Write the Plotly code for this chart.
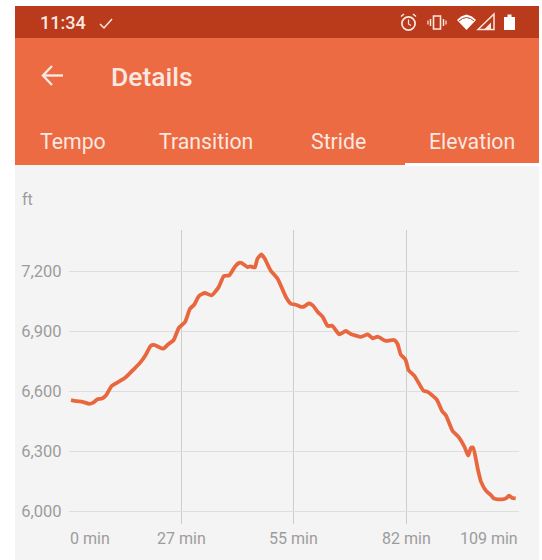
import plotly.graph_objects as go

minutes = [0.6, 2.0, 3.4, 5.0, 6.0, 7.0, 8.1, 9.1, 10.4, 11.7, 13.7, 15.7, 17.3, 18.7, 19.9, 20.7, 22.9, 24.2, 25.4, 26.7,
           28.2, 29.4, 30.4, 31.6, 33.0, 34.6, 36.3, 37.6, 38.9, 40.3, 41.3, 41.9, 43.3, 44.1, 45.1, 45.7, 46.7, 47.5, 48.9,
           50.6, 52.6, 53.8, 55.0, 56.2, 57.1, 58.1, 59.1, 60.3, 61.5, 62.7, 63.8, 65.5, 67.1, 68.3, 70.8, 72.4, 73.6, 74.8,
           76.8, 78.8, 79.6, 80.4, 81.5, 82.3, 83.7, 85.9, 86.9, 89.1, 90.4, 91.3, 92.9, 94.5, 95.8, 96.7, 97.4, 97.9, 99.0,
           99.8, 101.0, 102.2, 103.0, 105.0, 105.8, 106.6, 107.4, 108.2]
elevation = [6555, 6550, 6547, 6537, 6543, 6560, 6563, 6580, 6625, 6642, 6667, 6708, 6742, 6783, 6828, 6832, 6813, 6837, 6855, 6917,
             6947, 7013, 7033, 7078, 7092, 7080, 7120, 7177, 7180, 7225, 7243, 7242, 7222, 7225, 7220, 7263, 7285, 7263, 7205,
             7163, 7072, 7038, 7033, 7023, 7025, 7040, 7030, 6997, 6972, 6927, 6928, 6885, 6902, 6887, 6872, 6885, 6865, 6873,
             6852, 6857, 6838, 6783, 6760, 6705, 6677, 6602, 6597, 6558, 6500, 6480, 6402, 6368, 6322, 6277, 6317, 6318, 6213,
             6147, 6102, 6080, 6062, 6058, 6063, 6077, 6065, 6063]
x_ticks = [0, 27.25, 54.5, 81.75, 109]
x_labels = ["0 min", "27 min", "55 min", "82 min", "109 min"]
x_anchors = ["left", "center", "center", "center", "right"]
y_ticks = [6000, 6300, 6600, 6900, 7200]
y_labels = ["6,000", "6,300", "6,600", "6,900", "7,200"]
tabs = ["Tempo", "Transition", "Stride", "Elevation"]
tab_centers = [72.5, 206, 338.5, 472]

W, H = 542, 560
HEADER, STATUS, BG, TXT, LIGHT = "#EC6B42", "#BA3A1C", "#F4F4F4", "#9C9C9C", "#FBE8E0"


def fx(v):
    return v / W


def fy(v):
    return 1 - v / H


def rect(x0, y0, x1, y1, color):
    return dict(type="rect", xref="paper", yref="paper", x0=fx(x0), x1=fx(x1), y0=fy(y0), y1=fy(y1),
                fillcolor=color, line_width=0, layer="below")


def path(points, fill=None, line=None, width=1.5, close=True):
    d = "M " + " L ".join(f"{fx(a):.5f},{fy(b):.5f}" for a, b in points) + (" Z" if close else "")
    return dict(type="path", xref="paper", yref="paper", path=d, fillcolor=fill if fill else "rgba(0,0,0,0)",
                line=dict(color=line if line else "rgba(0,0,0,0)", width=width if line else 0), layer="above")


def ring(cx, cy, r, color, width=1.7):
    return dict(type="circle", xref="paper", yref="paper", x0=fx(cx - r), x1=fx(cx + r), y0=fy(cy + r), y1=fy(cy - r),
                line=dict(color=color, width=width), fillcolor="rgba(0,0,0,0)", layer="above")


def label(x, y, text, size, color=LIGHT, anchor="left", weight=400):
    return dict(xref="paper", yref="paper", x=fx(x), y=fy(y), text=text, showarrow=False, xanchor=anchor, yanchor="middle",
                borderpad=0, borderwidth=0, font=dict(size=size, color=color, family="Roboto", weight=weight))


shapes = [
    rect(15, 6, 539, 560, BG),
    rect(15, 6, 539, 38, STATUS),
    rect(15, 38, 539, 165, HEADER),
    rect(405, 163, 539, 166, "#FFFFFF"),
    # check mark, back arrow
    path([(100, 24), (104, 28), (112, 19)], line=LIGHT, width=1.5, close=False),
    path([(43, 75.5), (63, 75.5)], line=LIGHT, width=2.4, close=False),
    path([(52, 66), (43, 75.5), (52, 85)], line=LIGHT, width=2.4, close=False),
    # alarm clock
    ring(408.5, 23.5, 6.6, LIGHT),
    path([(408.5, 19.5), (408.5, 24), (411, 25.5)], line=LIGHT, width=1.2, close=False),
    path([(401, 16.5), (404, 14)], line=LIGHT, width=1.6, close=False),
    path([(413, 14), (416, 16.5)], line=LIGHT, width=1.6, close=False),
    # vibrate
    path([(433.5, 16), (440.5, 16), (440.5, 29), (433.5, 29)], line=LIGHT, width=1.6),
    path([(430.5, 19), (430.5, 26)], line=LIGHT, width=1.5, close=False),
    path([(443.5, 19), (443.5, 26)], line=LIGHT, width=1.5, close=False),
    path([(428, 20.5), (428, 24.5)], line=LIGHT, width=1.2, close=False),
    path([(446, 20.5), (446, 24.5)], line=LIGHT, width=1.2, close=False),
    # wifi
    path([(457, 20), (461, 16.5), (466.5, 14.5), (472, 16.5), (476, 20), (466.5, 30)], fill="#FFFFFF"),
    path([(459, 21), (462.5, 18.5), (466.5, 17.5), (470.5, 18.5), (474, 21)], line=STATUS, width=1, close=False),
    # signal
    path([(478, 29.5), (494, 14), (494, 29.5)], line=LIGHT, width=1.5),
    path([(484, 29.5), (491, 22.5), (491, 29.5)], fill=LIGHT),
    # battery
    path([(504, 17), (507.5, 17), (507.5, 14.5), (511.5, 14.5), (511.5, 17), (515, 17), (515, 30), (504, 30)], fill="#FFFFFF"),
]

annotations = [
    label(40, 23, "11:34", 18, weight=500),
    label(111, 77, "Details", 26.5, weight=500),
    label(22, 199, "ft", 16, color=TXT),
]
for name, cx in zip(tabs, tab_centers):
    annotations.append(label(cx, 141, name, 21.3, anchor="center"))
for v, text, anc in zip(x_ticks, x_labels, x_anchors):
    annotations.append(dict(xref="x", yref="paper", x=v, y=fy(538), text=text, showarrow=False, xanchor=anc, yanchor="middle",
                            borderpad=0, font=dict(size=16, color=TXT, family="Roboto")))

fig = go.Figure(go.Scatter(x=minutes, y=elevation, mode="lines", hoverinfo="skip",
                           line=dict(color="#E9673E", width=3.8, shape="spline", smoothing=0.5)))
fig.update_layout(
    width=W, height=H, margin=dict(l=0, r=0, t=0, b=0), autosize=False, showlegend=False,
    paper_bgcolor="#FFFFFF", plot_bgcolor="rgba(0,0,0,0)", shapes=shapes, annotations=annotations,
    font=dict(family="Roboto"),
    xaxis=dict(domain=[fx(68.5), fx(519)], range=[0, 109], tickvals=x_ticks, showticklabels=False, ticks="",
               showgrid=True, gridcolor="#CDCDCD", gridwidth=1.4, zeroline=False, showline=False),
    yaxis=dict(domain=[fy(524), fy(230)], range=[5935, 7407.5], tickvals=y_ticks, ticktext=y_labels, ticks="",
               ticklabelstandoff=6, tickfont=dict(size=16.5, color=TXT, family="Roboto"),
               showgrid=True, gridcolor="#DEDEDE", gridwidth=1, zeroline=False, showline=False),
)
fig.write_html("out.html", config=dict(displayModeBar=False),
               post_script="document.body.style.margin='0';")
